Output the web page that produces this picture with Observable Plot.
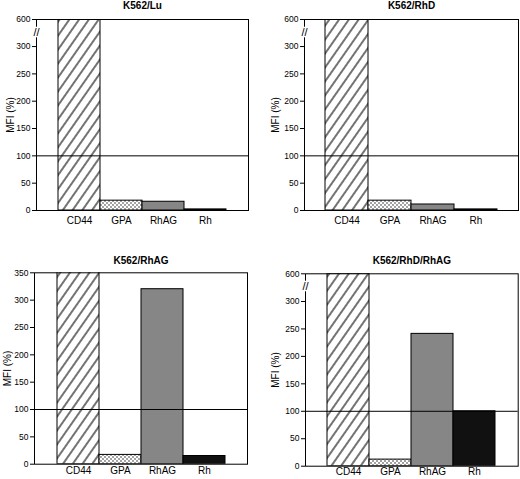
<!DOCTYPE html>
<html>
<head>
<meta charset="utf-8">
<script src="https://cdn.jsdelivr.net/npm/d3@7"></script>
<script src="https://cdn.jsdelivr.net/npm/@observablehq/plot@0.6"></script>
<style>
  html, body { margin: 0; padding: 0; background: white; }
  #wrap { position: relative; width: 520px; height: 479px; overflow: hidden; background: white; }
  #wrap > div { position: absolute; }
  #defs { position: absolute; width: 0; height: 0; }
</style>
</head>
<body>
<svg id="defs" width="0" height="0">
  <defs>
    <pattern id="hatch" patternUnits="userSpaceOnUse" width="8" height="8" patternTransform="rotate(35)">
      <rect width="8" height="8" fill="white"/>
      <line x1="4" y1="0" x2="4" y2="8" stroke="black" stroke-width="1.1"/>
    </pattern>
    <pattern id="dots" patternUnits="userSpaceOnUse" width="4" height="4">
      <rect width="4" height="4" fill="white"/>
      <circle cx="1" cy="1" r="0.7" fill="black"/>
      <circle cx="3" cy="3" r="0.7" fill="black"/>
    </pattern>
  </defs>
</svg>
<div id="wrap"></div>
<script>
// ---- data ----
const categories = ["CD44", "GPA", "RhAG", "Rh"];
const titles = ["K562/Lu", "K562/RhD", "K562/RhAG", "K562/RhD/RhAG"];
const luValues = [600, 18, 16, 2];
const rhdValues = [600, 18, 11, 2];
const rhagValues = [600, 17, 320, 15];
const rhdRhagValues = [600, 12, 241, 100];
const brokenTicks = [0, 50, 100, 150, 200, 250, 300, 600];
const plainTicks = [0, 50, 100, 150, 200, 250, 300, 350];
const referenceLevel = [100];
const yLabel = "MFI (%)";

// ---- styles ----
const fills = ["url(#hatch)", "url(#dots)", "#868686", "#111111"];
const font = "'Liberation Sans', Arial, Helvetica, sans-serif";

// broken axis: values above `at` are compressed by factor k
function breakTransform(at, k) {
  return v => (v <= at ? v : at + (v - at) * k);
}

function panel(cfg) {
  const rows = categories.map((c, i) => ({category: c, value: cfg.values[i]}));
  const T = cfg.brk ? breakTransform(cfg.brk.at, cfg.brk.k) : (v => v);
  const fw = cfg.width - cfg.ml - cfg.mr;
  const marks = [
    Plot.barY(rows, {x: "category", y: "value", fill: "category", stroke: "black", strokeWidth: 1, clip: true}),
    Plot.ruleY(referenceLevel, {stroke: "black", strokeWidth: 1}),
    Plot.frame({stroke: "black", strokeWidth: 1}),
    // y axis: tick marks and labels drawn through the (broken) y scale
    Plot.tickY(cfg.ticks, {y: d => d, stroke: "black", strokeWidth: 1, insetLeft: -4, insetRight: fw}),
    Plot.text(cfg.ticks, {y: d => d, text: d => String(d), frameAnchor: "left", dx: -6, textAnchor: "end",
      lineAnchor: "middle", fontSize: 8.5}),
    Plot.axisX({tickSize: 0, tickPadding: cfg.xPad, fontSize: 10, label: null}),
    Plot.text([cfg.title], {frameAnchor: "top", dy: -cfg.titleDy, fontWeight: "bold", fontSize: 10, lineAnchor: "middle", textAnchor: "middle"}),
    Plot.text([yLabel], {frameAnchor: "left", dx: cfg.labelDx, rotate: -90, fontSize: 10, textAnchor: "middle", lineAnchor: "middle"})
  ];
  if (cfg.brk) {
    marks.push(Plot.text(["//"], {frameAnchor: "left", y: [cfg.brk.mark], textAnchor: "middle", lineAnchor: "middle",
      fontSize: 11, fill: "black", stroke: "white", strokeWidth: 2.5}));
  }
  const chart = Plot.plot({
    width: cfg.width, height: cfg.height,
    marginLeft: cfg.ml, marginRight: cfg.mr, marginTop: cfg.mt, marginBottom: cfg.mb,
    style: {fontFamily: font, background: "white", color: "black", overflow: "visible"},
    x: {domain: categories, paddingInner: 0, paddingOuter: 0.48, axis: null},
    y: {transform: T, domain: [0, T(cfg.yMax)], axis: null},
    color: {domain: categories, range: fills},
    marks
  });
  const holder = document.createElement("div");
  holder.style.left = cfg.left + "px";
  holder.style.top = cfg.top + "px";
  holder.appendChild(chart);
  document.getElementById("wrap").appendChild(holder);
}

panel({title: titles[0], values: luValues, ticks: brokenTicks, yMax: 600, brk: {at: 300, k: 0.165, mark: 460},
  width: 260, height: 240, ml: 36, mr: 12, mt: 19, mb: 30, left: 0, top: 0,
  xPad: 6, titleDy: 13.5, labelDx: -26});
panel({title: titles[1], values: rhdValues, ticks: brokenTicks, yMax: 600, brk: {at: 300, k: 0.165, mark: 460},
  width: 260, height: 240, ml: 44, mr: 2, mt: 19, mb: 30, left: 260, top: 0,
  xPad: 6, titleDy: 13.5, labelDx: -29});
panel({title: titles[2], values: rhagValues, ticks: plainTicks, yMax: 350, brk: null,
  width: 260, height: 239, ml: 34, mr: 13, mt: 32.3, mb: 15.3, left: 0, top: 240,
  xPad: 2.5, titleDy: 11.6, labelDx: -27});
panel({title: titles[3], values: rhdRhagValues, ticks: brokenTicks, yMax: 600, brk: {at: 300, k: 0.168, mark: 460},
  width: 260, height: 239, ml: 45, mr: 2.3, mt: 33.3, mb: 13.3, left: 260, top: 240,
  xPad: 1.5, titleDy: 12.6, labelDx: -30});
</script>
</body>
</html>
